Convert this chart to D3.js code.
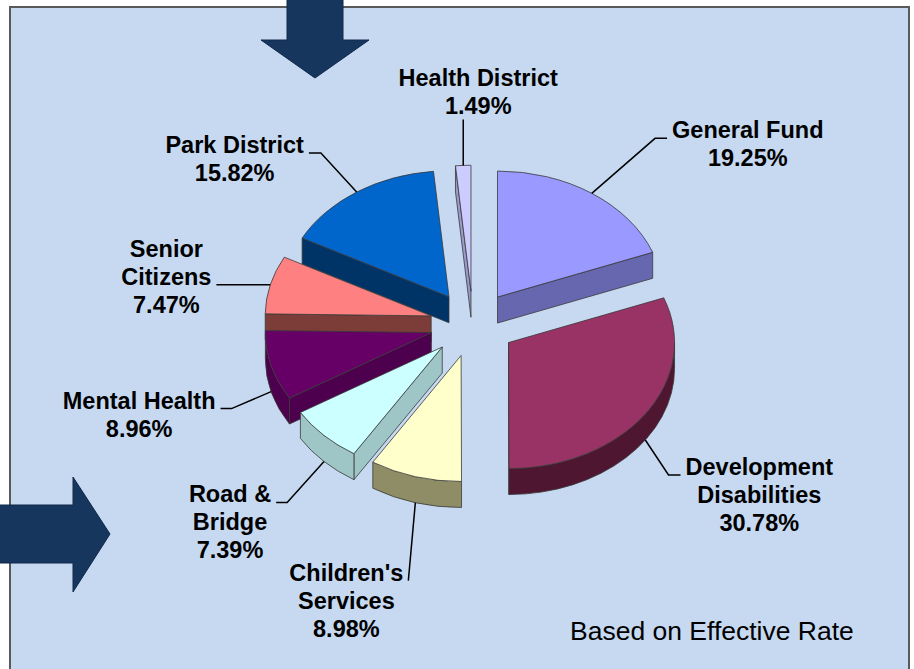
<!DOCTYPE html>
<html>
<head>
<meta charset="utf-8">
<script src="https://cdn.jsdelivr.net/npm/d3@7"></script>
<style>
  html, body { margin: 0; padding: 0; background: #fff; }
  svg { display: block; }
  .lbl { font-family: "Liberation Sans", Arial, sans-serif; font-weight: bold; font-size: 23.5px; fill: #000; }
  .note { font-family: "Liberation Sans", Arial, sans-serif; font-size: 26.5px; fill: #000; }
</style>
</head>
<body>
<svg id="chart"></svg>
<script>
// ---- data (clockwise from 12 o'clock) ----
const funds = ["General Fund", "Development Disabilities", "Children's Services", "Road & Bridge",
               "Mental Health", "Senior Citizens", "Park District", "Health District"];
const shares = [19.25, 30.78, 8.98, 7.39, 8.96, 7.47, 15.82, 1.49];
// how each name is broken on the chart
const labelLines = [["General Fund"], ["Development", "Disabilities"], ["Children's", "Services"], ["Road &", "Bridge"],
                    ["Mental Health"], ["Senior", "Citizens"], ["Park District"], ["Health District"]];
const note = "Based on Effective Rate";

// ---- styles (excel 2003 palette) ----
const topColors  = ["#9999ff", "#993366", "#ffffcc", "#ccffff", "#660066", "#ff8080", "#0066cc", "#ccccff"];
const sideColors = ["#6767b0", "#4e1631", "#8f8d66", "#9fc6c6", "#4d004d", "#7c3c38", "#003466", "#9a9acc"];

// label placement: text centre / first baseline relative to the leader anchor,
// which line the leader meets and from which side
const labelPos = [
    {dx: 156,  dy: -55, line: 0, side: "left",   elbow: 12},
    {dx: 114,  dy: 35,  line: 0, side: "left",   elbow: 12},
    {dx: -69,  dy: 78,  line: 0, side: "right",  elbow: 0},
    {dx: -94,  dy: 41,  line: 0, side: "right",  elbow: 11},
    {dx: -132, dy: 17,  line: 0, side: "right",  elbow: 11},
    {dx: -104, dy: -28, line: 1, side: "right",  elbow: 0},
    {dx: -122, dy: -39, line: 0, side: "right",  elbow: 12},
    {dx: 15,   dy: -79, line: 1, side: "bottom", elbow: 0}
];

const W = 914, H = 669;
// pie geometry: centre, ellipse radii, thickness, explosion (fraction of radius)
const cx = 473, cy = 324, rx = 166, ry = 126, depth = 26, explode = 0.26;
const lh = 28;

const svg = d3.select("#chart").attr("width", W).attr("height", H);

// panel
svg.append("rect")
    .attr("x", 10).attr("y", 7)
    .attr("width", 899).attr("height", 700)
    .attr("fill", "#c6d9f1")
    .attr("stroke", "#5a5a5a")
    .attr("stroke-width", 2);

// the two navy arrows of the slide
const arrowColor = "#17365d";
svg.append("path")
    .attr("d", d3.line()([[287, -2], [343, -2], [343, 40], [369, 40], [315, 78], [261, 40], [287, 40]]) + "Z")
    .attr("fill", arrowColor).attr("stroke", "#10284a").attr("stroke-width", 1);
svg.append("path")
    .attr("d", d3.line()([[-2, 505], [73, 505], [73, 477], [110, 534], [73, 592], [73, 563], [-2, 563]]) + "Z")
    .attr("fill", arrowColor).attr("stroke", "#10284a").attr("stroke-width", 1);

// ---- pie ----
const arcs = d3.pie().sort(null).value(d => d)(shares);

function centre(m) {
    return [cx + explode * rx * Math.sin(m), cy - explode * ry * Math.cos(m)];
}
function pt(c, a, dz = 0) {
    return [c[0] + rx * Math.sin(a), c[1] - ry * Math.cos(a) + dz];
}
function topPath(c, a0, a1) {
    const p0 = pt(c, a0), p1 = pt(c, a1);
    const large = a1 - a0 > Math.PI ? 1 : 0;
    return `M${c}L${p0}A${rx},${ry} 0 ${large} 1 ${p1}Z`;
}
function outerPath(c, a0, a1) {
    const b0 = Math.max(a0, Math.PI / 2), b1 = Math.min(a1, 3 * Math.PI / 2);
    if (b1 <= b0) return null;
    const p0 = pt(c, b0), p1 = pt(c, b1), q1 = pt(c, b1, depth), q0 = pt(c, b0, depth);
    return `M${p0}A${rx},${ry} 0 0 1 ${p1}L${q1}A${rx},${ry} 0 0 0 ${q0}Z`;
}
function radialPath(c, a) {
    const p = pt(c, a);
    return `M${c}L${p}L${p[0]},${p[1] + depth}L${c[0]},${c[1] + depth}Z`;
}

const slices = arcs.map((d, i) => {
    const m = (d.startAngle + d.endAngle) / 2;
    return {d: d, i: i, m: m, c: centre(m)};
});

const gPie = svg.append("g");
// back slices first
slices.slice().sort((a, b) => a.c[1] - b.c[1]).forEach(s => {
    const g = gPie.append("g")
        .attr("stroke", "#3a3a3a")
        .attr("stroke-width", 0.8)
        .attr("stroke-linejoin", "round");
    const a0 = s.d.startAngle, a1 = s.d.endAngle;
    if (Math.sin(a0) < -1e-3)
        g.append("path").attr("d", radialPath(s.c, a0)).attr("fill", sideColors[s.i]);
    if (Math.sin(a1) > 1e-3)
        g.append("path").attr("d", radialPath(s.c, a1)).attr("fill", sideColors[s.i]);
    const op = outerPath(s.c, a0, a1);
    if (op) g.append("path").attr("d", op).attr("fill", sideColors[s.i]);
    g.append("path").attr("d", topPath(s.c, a0, a1)).attr("fill", topColors[s.i]);
});

// ---- labels and leader lines ----
const gLab = svg.append("g");
const fmt = d3.format(".2f");
slices.forEach(s => {
    const i = s.i;
    const a = pt(s.c, s.m, Math.cos(s.m) < 0 ? depth : 0);
    const L = labelPos[i];
    const tx = a[0] + L.dx, ty = a[1] + L.dy;
    const lines = labelLines[i].concat([fmt(shares[i]) + "%"]);
    const t = gLab.append("text").attr("class", "lbl").attr("text-anchor", "middle");
    lines.forEach((str, k) => t.append("tspan").attr("x", tx).attr("y", ty + k * lh).text(str));

    let end, elbow;
    if (L.side === "bottom") {
        end = [a[0], ty + (lines.length - 1) * lh + 5];
        elbow = end;
    } else {
        const w = t.selectAll("tspan").nodes()[L.line].getComputedTextLength();
        const sgn = L.side === "left" ? -1 : 1;
        end = [tx + sgn * (w / 2 + 5), ty + L.line * lh];
        elbow = [end[0] + sgn * L.elbow, end[1]];
    }
    gLab.append("path")
        .attr("d", d3.line()([a, elbow, end]))
        .attr("fill", "none")
        .attr("stroke", "#000")
        .attr("stroke-width", 1.5);
});

svg.append("text")
    .attr("class", "note")
    .attr("x", 570).attr("y", 640)
    .text(note);
</script>
</body>
</html>
